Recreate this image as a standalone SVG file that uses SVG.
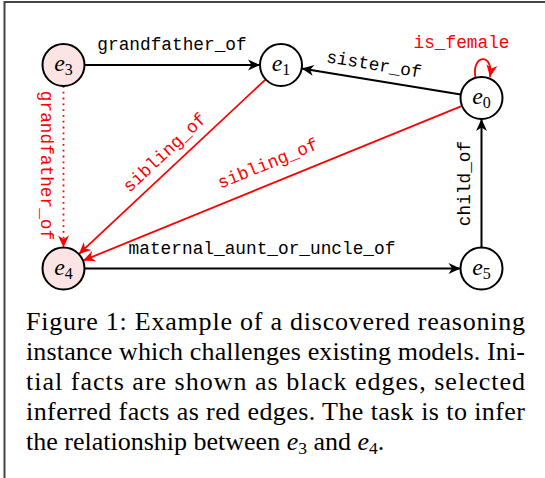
<svg xmlns="http://www.w3.org/2000/svg" width="545" height="478" viewBox="0 0 545 478">
<style>
.node{stroke:#000;stroke-width:2;fill:#fff}
.pink{fill:#fde4e4}
.nl{font-family:"Liberation Serif",serif;font-size:24px;text-anchor:middle}
.sub{font-style:normal;font-size:16px}
.lbl{font-family:"Liberation Mono",monospace;font-size:17.8px;text-anchor:middle}
.red{fill:#f00}
.blk{fill:#000}
.e{fill:none;stroke:#000;stroke-width:2}
.r{fill:none;stroke:#f00;stroke-width:1.8}
.cap{font-family:"Liberation Serif",serif;font-size:26px;fill:#000}
</style>
<defs>
<marker id="ab" markerUnits="userSpaceOnUse" markerWidth="16" markerHeight="14" viewBox="-13 -7 14 14" refX="0" refY="0" orient="auto">
<path d="M0,0 L-12,-5.5 L-8.5,0 L-12,5.5 Z" fill="#000"/>
</marker>
<marker id="ar" markerUnits="userSpaceOnUse" markerWidth="16" markerHeight="14" viewBox="-13 -7 14 14" refX="0" refY="0" orient="auto">
<path d="M0,0 L-12,-5.5 L-8.5,0 L-12,5.5 Z" fill="#f00"/>
</marker>
</defs>
<rect width="545" height="478" fill="#fff"/>
<path d="M4.5,478 V2 H545" fill="none" stroke="#444" stroke-width="2"/>

<g id="edges">
<path class="e" d="M84.5,65 H260" marker-end="url(#ab)"/>
<path class="e" d="M460.8,94.6 L301.7,68.4" marker-end="url(#ab)"/>
<path class="r" d="M265.7,79.3 L78.8,254.2" marker-end="url(#ar)"/>
<path class="r" d="M462.1,105.9 L83,260.6" marker-end="url(#ar)"/>
<path class="r" d="M63.5,86 V247.5" stroke-dasharray="1.8,4" marker-end="url(#ar)"/>
<path class="e" d="M84.5,268.5 H460.5" marker-end="url(#ab)"/>
<path class="e" d="M481.5,247.5 V119" marker-end="url(#ab)"/>
<path class="r" d="M475.5,78 C471,54 494,52 490,77" stroke-width="2.2" marker-end="url(#ar)"/>
<text class="lbl blk" x="172" y="50">grandfather_of</text>
<text class="lbl blk" transform="translate(374,65) rotate(9.35)" x="0" y="5">sister_of</text>
<text class="lbl red" x="461.5" y="48">is_female</text>
<text class="lbl red" transform="translate(165,153) rotate(-43)" x="0" y="5">sibling_of</text>
<text class="lbl red" transform="translate(268,164) rotate(-22.2)" x="0" y="5">sibling_of</text>
<text class="lbl red" transform="translate(45.5,165.5) rotate(90)" x="0" y="5">grandfather_of</text>
<text class="lbl blk" transform="translate(465,183.5) rotate(-90)" x="0" y="5">child_of</text>
<text class="lbl blk" x="262" y="254">maternal_aunt_or_uncle_of</text>
</g>

<g id="e3"><circle class="node pink" cx="63.5" cy="65" r="21"/><text class="nl" x="63.5" y="71"><tspan font-style="italic">e</tspan><tspan class="sub" dy="4">3</tspan></text></g>
<g id="e1"><circle class="node" cx="281" cy="65" r="21"/><text class="nl" x="281" y="71"><tspan font-style="italic">e</tspan><tspan class="sub" dy="4">1</tspan></text></g>
<g id="e0"><circle class="node" cx="481.5" cy="98" r="21"/><text class="nl" x="481.5" y="104"><tspan font-style="italic">e</tspan><tspan class="sub" dy="4">0</tspan></text></g>
<g id="e4"><circle class="node pink" cx="63.5" cy="268.5" r="21"/><text class="nl" x="63.5" y="274.5"><tspan font-style="italic">e</tspan><tspan class="sub" dy="4">4</tspan></text></g>
<g id="e5"><circle class="node" cx="481.5" cy="268.5" r="21"/><text class="nl" x="481.5" y="274.5"><tspan font-style="italic">e</tspan><tspan class="sub" dy="4">5</tspan></text></g>

<g id="caption">
<text class="cap" x="26" y="330" textLength="499" lengthAdjust="spacing">Figure 1: Example of a discovered reasoning</text>
<text class="cap" x="26" y="360" textLength="499" lengthAdjust="spacing">instance which challenges existing models. Ini-</text>
<text class="cap" x="26" y="390" textLength="499" lengthAdjust="spacing">tial facts are shown as black edges, selected</text>
<text class="cap" x="26" y="420" textLength="499" lengthAdjust="spacing">inferred facts as red edges. The task is to infer</text>
<text class="cap" x="26" y="450">the relationship between <tspan font-style="italic">e</tspan><tspan font-size="17.5" dy="4">3</tspan><tspan dy="-4"> and </tspan><tspan font-style="italic">e</tspan><tspan font-size="17.5" dy="4">4</tspan><tspan dy="-4">.</tspan></text>
</g>
</svg>
